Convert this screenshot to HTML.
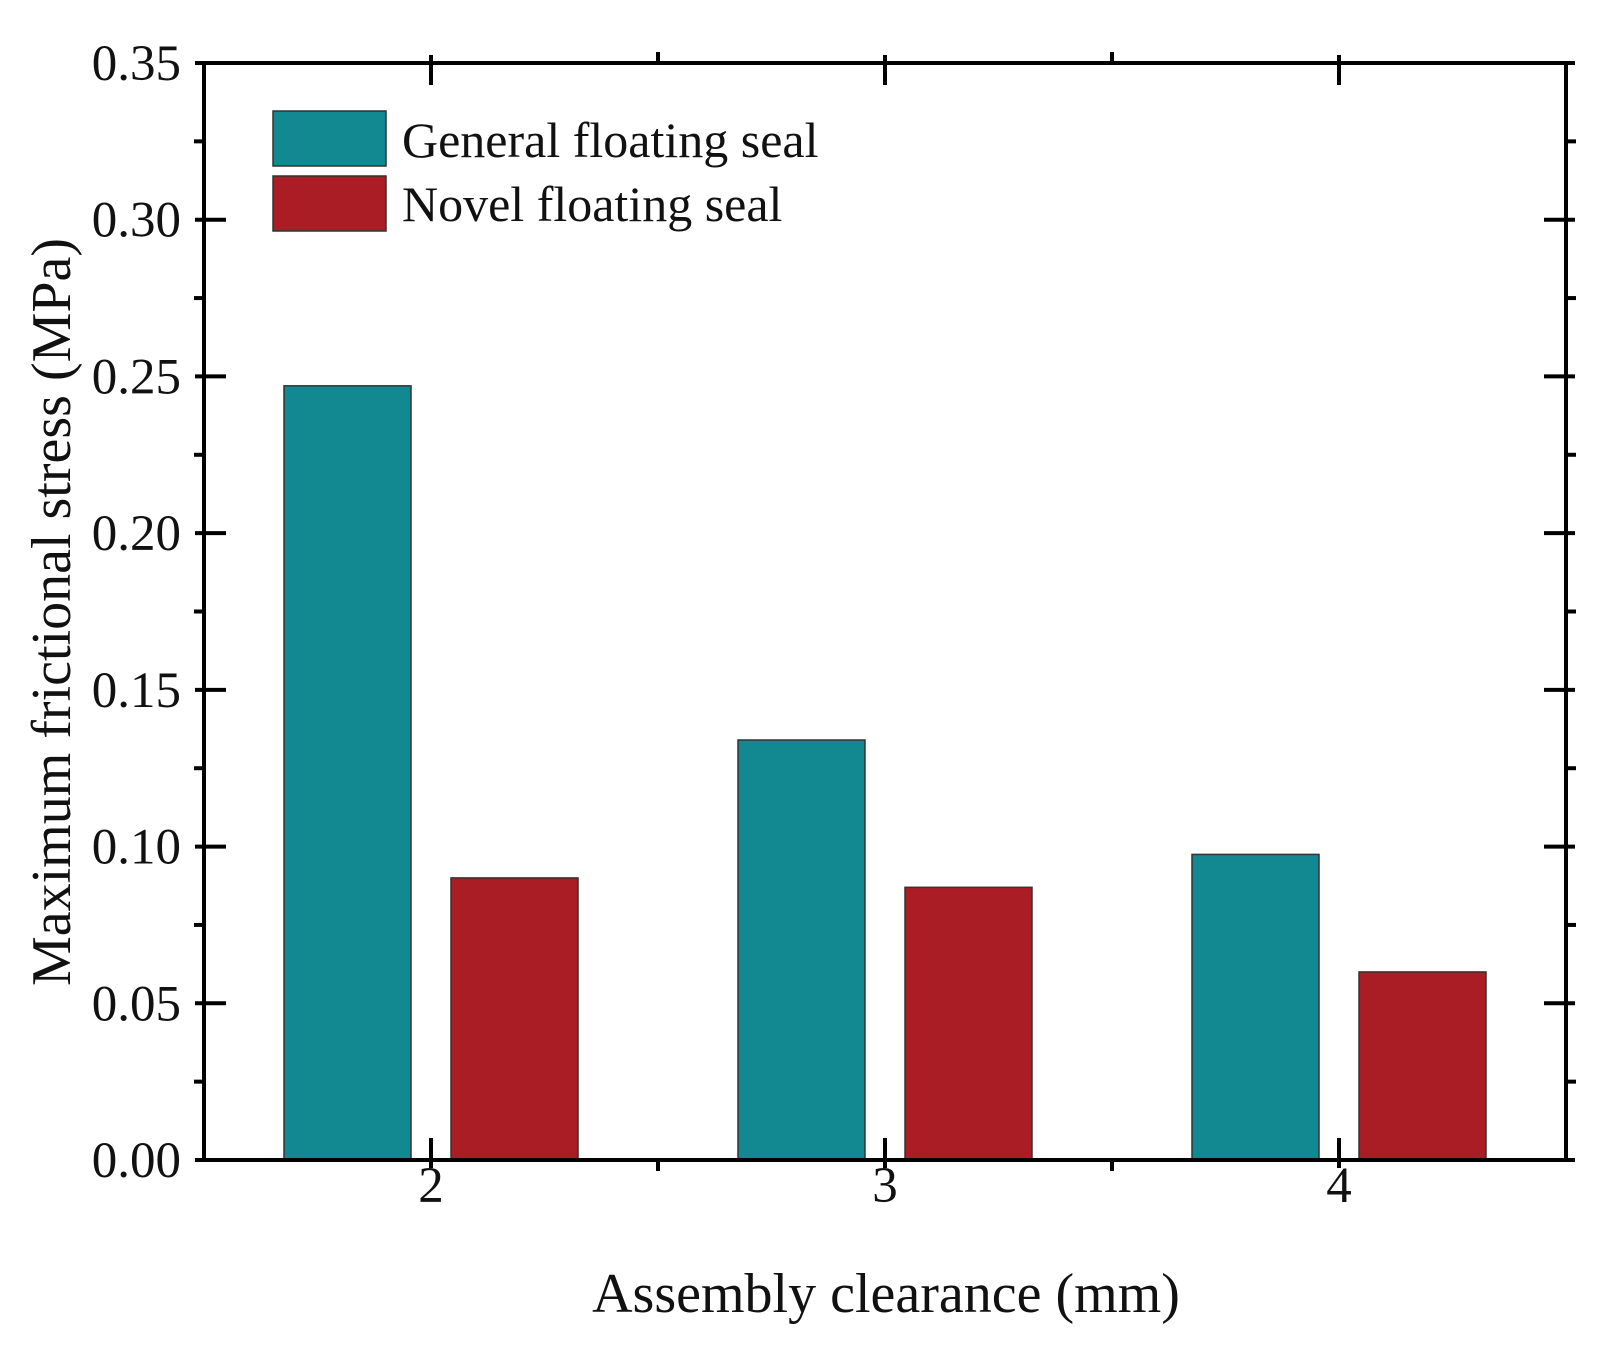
<!DOCTYPE html>
<html><head><meta charset="utf-8"><style>
body{margin:0;background:#fff}
svg text{font-family:"Liberation Serif",serif;fill:#111}
</style></head><body>
<svg id="chart" width="1597" height="1350" xmlns="http://www.w3.org/2000/svg">
<g id="bars"></g>
<g id="axes"></g>
<g>
<rect x="273" y="111" width="113" height="55" fill="#128891" stroke="#333" stroke-width="1.5"/>
<text x="402" y="157" font-size="50">General floating seal</text>
<rect x="273" y="176" width="113" height="55" fill="#aa1d24" stroke="#333" stroke-width="1.5"/>
<text x="402" y="221" font-size="50">Novel floating seal</text>
</g>
<text x="886" y="1312" font-size="56" text-anchor="middle">Assembly clearance (mm)</text>
<text transform="translate(70,612) rotate(-90)" font-size="56" text-anchor="middle">Maximum frictional  stress (MPa)</text>
</svg>
<script>
const categories=["2","3","4"];
const generalValues=[0.247,0.134,0.0975];
const novelValues=[0.090,0.087,0.060];
const yTicks=["0.00","0.05","0.10","0.15","0.20","0.25","0.30","0.35"];
const L=204,R=1566,T=63,B=1160;
const x=i=>L+(i+0.5)*(R-L)/3;
const y=v=>B-v/0.35*(B-T);
const NS="http://www.w3.org/2000/svg";
function mk(tag,attrs,parent){const e=document.createElementNS(NS,tag);for(const k in attrs)e.setAttribute(k,attrs[k]);parent.appendChild(e);return e;}
const bars=document.getElementById('bars'),axes=document.getElementById('axes');
categories.forEach((c,i)=>{
  const cx=x(i);
  const g=mk('rect',{x:cx-20-127,y:y(generalValues[i]),width:127,height:B-y(generalValues[i]),fill:'#128891',stroke:'#333','stroke-width':1.5},bars);
  
  
  const n=mk('rect',{x:cx+20,y:y(novelValues[i]),width:127,height:B-y(novelValues[i]),fill:'#aa1d24',stroke:'#333','stroke-width':1.5},bars);
  
  
  mk('line',{x1:cx,x2:cx,y1:B+8,y2:B-22,stroke:'#000','stroke-width':4},axes);
  mk('line',{x1:cx,x2:cx,y1:T-8,y2:T+22,stroke:'#000','stroke-width':4},axes);
  const t=mk('text',{x:cx,y:1202,'font-size':51,'text-anchor':'middle'},axes);
  t.textContent=c;
  
  
  if(i<2){const mx=(x(i)+x(i+1))/2;
    mk('line',{x1:mx,x2:mx,y1:B,y2:B+11,stroke:'#000','stroke-width':4},axes);
    mk('line',{x1:mx,x2:mx,y1:T,y2:T-11,stroke:'#000','stroke-width':4},axes);}
});
yTicks.forEach((lab,i)=>{
  const v=parseFloat(lab),yy=y(v);
  mk('line',{x1:L-9,x2:L+22,y1:yy,y2:yy,stroke:'#000','stroke-width':4},axes);
  mk('line',{x1:R+9,x2:R-22,y1:yy,y2:yy,stroke:'#000','stroke-width':4},axes);
  if(i<yTicks.length-1){const ym=y(v+0.025);
    mk('line',{x1:L-10,x2:L,y1:ym,y2:ym,stroke:'#000','stroke-width':4},axes);
    mk('line',{x1:R+10,x2:R,y1:ym,y2:ym,stroke:'#000','stroke-width':4},axes);}
  const t=mk('text',{x:181,y:yy+17,'font-size':51,'text-anchor':'end'},axes);
  t.textContent=lab;
  
  
});
const f=mk('rect',{x:L,y:T,width:R-L,height:B-T,fill:'none',stroke:'#000','stroke-width':4},axes);


</script>
</body></html>
